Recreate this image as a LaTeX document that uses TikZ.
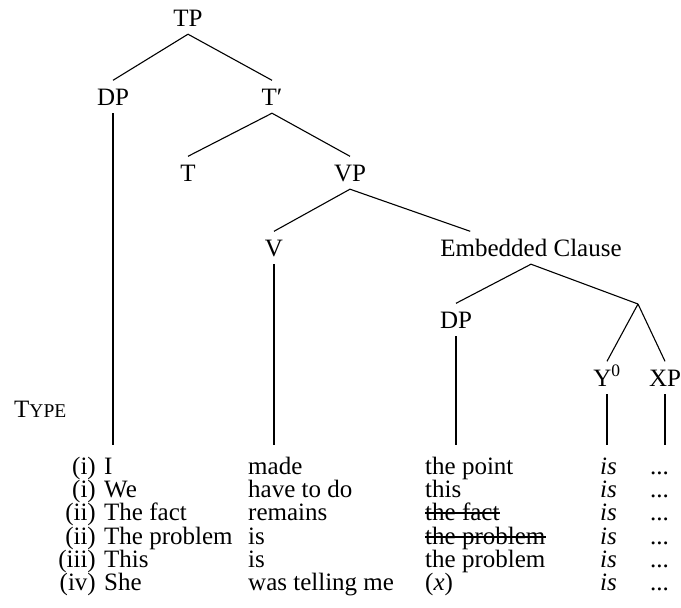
\documentclass[tikz,border=0pt]{standalone}
\usepackage{fontspec}
\setmainfont{Liberation Serif}
\begin{document}
\begin{tikzpicture}[x=1pt,y=-1pt,
  lbl/.style={font=\fontsize{25}{30}\selectfont, inner sep=8pt, text height=16.5pt, text depth=0pt, anchor=base},
  cell/.style={font=\fontsize{25}{30}\selectfont, inner sep=0pt, anchor=base west},
  num/.style={font=\fontsize{25}{30}\selectfont, inner sep=0pt, anchor=base east},
  br/.style={line width=1.1pt},
  strike/.style={line width=1.1pt}]
\useasboundingbox (0,0) rectangle (681,608);

% tree labels
\node[lbl] (TP) at (188,26) {TP};
\node[lbl] (DP) at (113,105) {DP};
\node[lbl] (Tb) at (272,105) {T\char"2032};
\node[lbl] (T) at (188,181) {T};
\node[lbl] (VP) at (350,181) {VP};
\node[lbl] (V) at (274,256) {V};
\node[lbl] (EC) at (531,256) {Embedded Clause};
\node[lbl] (DPb) at (456,328) {DP};
\coordinate (J) at (638,304);
\node[lbl] (Y) at (607,386) {Y\textsuperscript{0}};
\node[lbl] (XP) at (665,386) {XP};
\coordinate (bot) at (0,445);

% branches
\draw[br] (TP.south) -- (DP.north);
\draw[br] (TP.south) -- (Tb.north);
\draw[br] (Tb.south) -- (T.north);
\draw[br] (Tb.south) -- (VP.north);
\draw[br] (VP.south) -- (V.north);
\draw[br] (VP.south) -- ([xshift=38pt]EC.north west);
\draw[br] (EC.south) -- (DPb.north);
\draw[br] (EC.south) -- (J);
\draw[br] (J) -- (Y.north);
\draw[br] (J) -- (XP.north);

% verticals
\draw[br] (DP.south) -- (DP.south |- bot);
\draw[br] (V.south) -- (V.south |- bot);
\draw[br] (DPb.south) -- (DPb.south |- bot);
\draw[br] (Y.south) -- (Y.south |- bot);
\draw[br] (XP.south) -- (XP.south |- bot);

% TYPE
\node[cell] (type) at (14,417) {{\fontsize{25}{30}\selectfont T}{\fontsize{19.5}{22}\selectfont YPE}};

% rows
\node[num] (n1) at (96,474) {(i)};
\node[cell] (a1) at (104,474) {I};
\node[cell] (b1) at (248,474) {made};
\node[cell] (c1) at (425,474) {the point};
\node[cell] (d1) at (600,474) {\textit{is}};
\node[cell] (e1) at (650,474) {...};

\node[num] (n2) at (96,497) {(i)};
\node[cell] (a2) at (104,497) {We};
\node[cell] (b2) at (248,497) {have to do};
\node[cell] (c2) at (425,497) {this};
\node[cell] (d2) at (600,497) {\textit{is}};
\node[cell] (e2) at (650,497) {...};

\node[num] (n3) at (96,520) {(ii)};
\node[cell] (a3) at (104,520) {The fact};
\node[cell] (b3) at (248,520) {remains};
\node[cell] (c3) at (425,520) {the fact};
\node[cell] (d3) at (600,520) {\textit{is}};
\node[cell] (e3) at (650,520) {...};

\node[num] (n4) at (96,544) {(ii)};
\node[cell] (a4) at (104,544) {The problem};
\node[cell] (b4) at (248,544) {is};
\node[cell] (c4) at (425,544) {the problem};
\node[cell] (d4) at (600,544) {\textit{is}};
\node[cell] (e4) at (650,544) {...};

\node[num] (n5) at (96,567) {(iii)};
\node[cell] (a5) at (104,567) {This};
\node[cell] (b5) at (248,567) {is};
\node[cell] (c5) at (425,567) {the problem};
\node[cell] (d5) at (600,567) {\textit{is}};
\node[cell] (e5) at (650,567) {...};

\node[num] (n6) at (96,590) {(iv)};
\node[cell] (a6) at (104,590) {She};
\node[cell] (b6) at (248,590) {was telling me};
\node[cell] (c6) at (425,590) {(\textit{x})};
\node[cell] (d6) at (600,590) {\textit{is}};
\node[cell] (e6) at (650,590) {...};

% strike-throughs
\draw[strike] ([yshift=7pt]c3.base west) -- ([yshift=7pt]c3.base east);
\draw[strike] ([yshift=7pt]c4.base west) -- ([yshift=7pt]c4.base east);
\end{tikzpicture}
\end{document}
